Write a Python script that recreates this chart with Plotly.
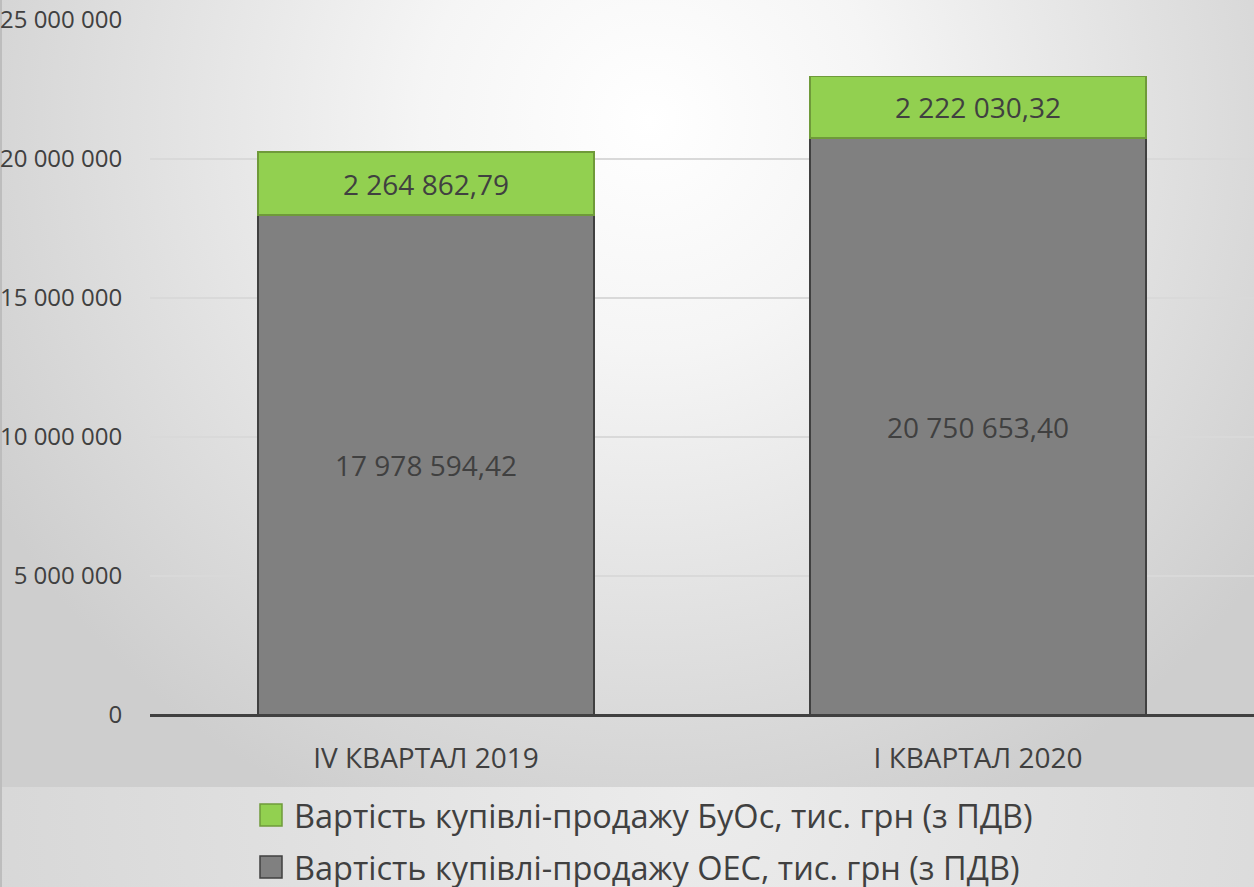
import base64
import plotly.graph_objects as go

categories = ["IV КВАРТАЛ 2019", "І КВАРТАЛ 2020"]
oes_values = [17978594.42, 20750653.40]
buos_values = [2264862.79, 2222030.32]
name_oes = "Вартість купівлі-продажу ОЕС, тис. грн (з ПДВ)"
name_buos = "Вартість купівлі-продажу БуОс, тис. грн (з ПДВ)"
y_ticks = [0, 5000000, 10000000, 15000000, 20000000, 25000000]

W, H = 1254, 887
L, R, T, B = 150, 0, 20, 172
pw, ph = W - L - R, H - T - B


def px(x):
    return (x - L) / pw


def py(y):
    return (H - B - y) / ph


# soft radial background like the office chart style
svg = (
    f'<svg xmlns="http://www.w3.org/2000/svg" width="{W}" height="{H}">'
    '<defs>'
    '<radialGradient id="g" cx="650" cy="120" r="760" gradientUnits="userSpaceOnUse">'
    '<stop offset="0" stop-color="#ffffff"/><stop offset="0.3" stop-color="#f5f5f5"/>'
    '<stop offset="1" stop-color="#cecece"/></radialGradient>'
    '<radialGradient id="h" cx="700" cy="790" r="760" gradientUnits="userSpaceOnUse">'
    '<stop offset="0" stop-color="#ececec"/><stop offset="1" stop-color="#d6d6d6"/></radialGradient>'
    '</defs>'
    f'<rect width="{W}" height="787" fill="url(#g)"/>'
    f'<rect y="787" width="{W}" height="{H - 787}" fill="url(#h)"/>'
    f'<rect width="2" height="{H}" fill="#bdbdbd"/>'
    '</svg>'
)
bg = "data:image/svg+xml;base64," + base64.b64encode(svg.encode()).decode()

fig = go.Figure()
fig.add_trace(go.Bar(x=categories, y=oes_values, name=name_oes,
                     marker=dict(color="#808080", line=dict(color="#404040", width=1.5)),
                     texttemplate="%{y:,.2f}", textposition="inside",
                     insidetextanchor="middle",
                     textfont=dict(size=28, color="#404040"), width=0.608))
fig.add_trace(go.Bar(x=categories, y=buos_values, name=name_buos,
                     marker=dict(color="#92D050", line=dict(color="#6f9a3a", width=1.5)),
                     texttemplate="%{y:,.2f}", textposition="inside",
                     insidetextanchor="middle",
                     textfont=dict(size=28, color="#404040"), width=0.608))

# legend drawn by hand so the swatches and spacing match
legend_items = [(name_buos, "#92D050", "#6f9a3a", 815),
                (name_oes, "#808080", "#404040", 867)]
shapes, annotations = [], []
for name, fill, edge, yc in legend_items:
    shapes.append(dict(type="rect", xref="paper", yref="paper",
                       x0=px(260), x1=px(282), y0=py(yc - 11), y1=py(yc + 11),
                       fillcolor=fill, line=dict(color=edge, width=1.5)))
    annotations.append(dict(text=name, xref="paper", yref="paper",
                            x=px(292), y=py(yc), xanchor="left", yanchor="middle",
                            showarrow=False, font=dict(size=32.5, color="#404040")))

fig.update_layout(
    width=W, height=H,
    margin=dict(l=L, r=R, t=T, b=B, pad=0),
    barmode="stack",
    separators=", ",
    font=dict(family="Open Sans", color="#404040"),
    paper_bgcolor="#e0e0e0",
    plot_bgcolor="rgba(0,0,0,0)",
    showlegend=False,
    shapes=shapes,
    annotations=annotations,
    uniformtext=dict(minsize=20, mode="show"),
    images=[dict(source=bg, xref="paper", yref="paper",
                 x=-L / pw, y=1 + T / ph, sizex=W / pw, sizey=H / ph,
                 xanchor="left", yanchor="top", sizing="stretch", layer="below")],
)
fig.update_xaxes(range=[-0.5, 1.5], showgrid=False, showline=False,
                 tickfont=dict(size=28, color="#404040"),
                 ticks="outside", ticklen=18, tickcolor="rgba(0,0,0,0)")
fig.update_yaxes(range=[0, 25000000], tickvals=y_ticks, tickformat=",d",
                 showgrid=True, gridcolor="#d9d9d9", gridwidth=1.5,
                 zeroline=True, zerolinecolor="#404040", zerolinewidth=3,
                 tickfont=dict(size=24, color="#404040"),
                 ticks="outside", ticklen=22, tickcolor="rgba(0,0,0,0)")

fig.write_html("out.html", config={"displayModeBar": False},
               post_script="document.body.style.margin='0';")
